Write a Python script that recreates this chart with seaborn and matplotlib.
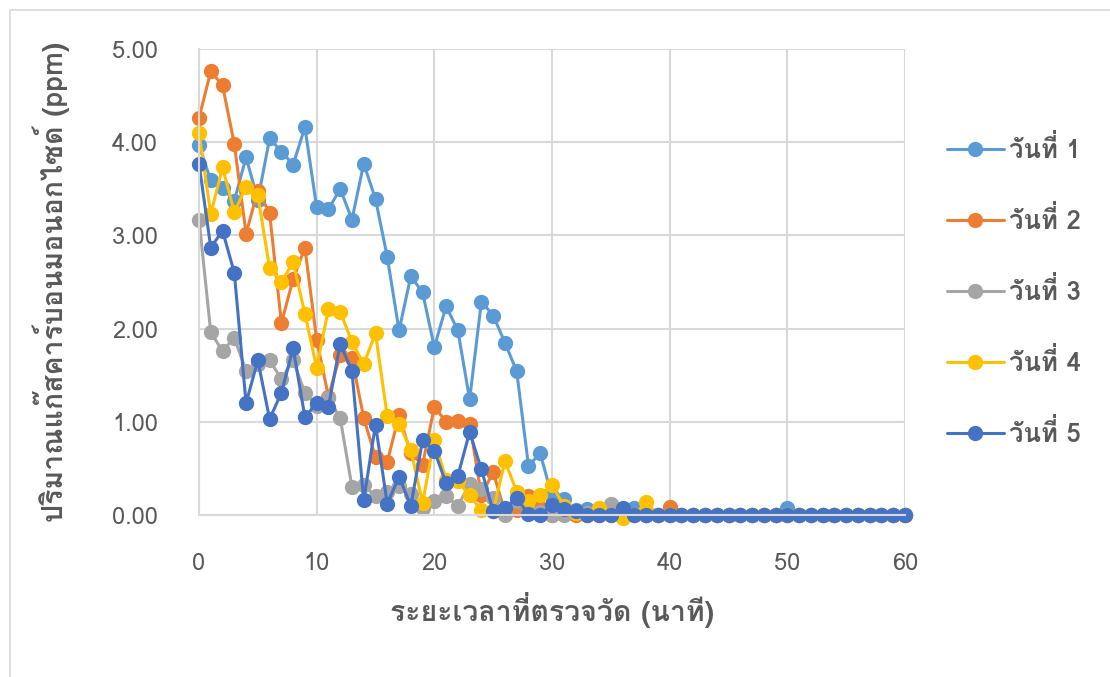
import matplotlib
matplotlib.use("Agg")
import matplotlib.pyplot as plt
from matplotlib import font_manager
from matplotlib.ft2font import FT2Font
from matplotlib.lines import Line2D
import numpy as np
import pandas as pd
import seaborn as sns

# ---- data -------------------------------------------------------------
minutes = list(range(61))

day1 = [3.97, 3.59, 3.51, 3.37, 3.84, 3.38, 4.04, 3.90, 3.76, 4.16,
        3.30, 3.28, 3.50, 3.17, 3.77, 3.39, 2.77, 1.98, 2.56, 2.39,
        1.80, 2.24, 1.98, 1.24, 2.29, 2.14, 1.85, 1.54, 0.53, 0.66,
        0.20, 0.17, 0.05, 0.06, 0.02, 0.03, 0.02, 0.08, 0.00, 0.00,
        0.00, 0.00, 0.00, 0.00, 0.00, 0.00, 0.00, 0.00, 0.00, 0.00,
        0.07, 0.00, 0.00, 0.00, 0.00, 0.00, 0.00, 0.00, 0.00, 0.00,
        0.00]
day2 = [4.26, 4.76, 4.61, 3.98, 3.02, 3.48, 3.24, 2.06, 2.53, 2.87,
        1.88, 1.27, 1.72, 1.68, 1.04, 0.62, 0.57, 1.07, 0.66, 0.54,
        1.16, 1.00, 1.01, 0.98, 0.21, 0.46, 0.03, 0.05, 0.20, 0.08,
        0.00, 0.02, 0.00, 0.00, 0.00, 0.00, 0.00, 0.00, 0.00, 0.00,
        0.09, 0.00, 0.00, 0.00, 0.00, 0.00, 0.00, 0.00, 0.00, 0.00,
        0.00, 0.00, 0.00, 0.00, 0.00, 0.00, 0.00, 0.00, 0.00, 0.00,
        0.00]
day3 = [3.17, 1.96, 1.76, 1.90, 1.55, 1.62, 1.66, 1.46, 1.66, 1.31,
        1.17, 1.26, 1.04, 0.30, 0.32, 0.20, 0.25, 0.31, 0.22, 0.07,
        0.15, 0.20, 0.10, 0.33, 0.28, 0.18, 0.00, 0.15, 0.05, 0.03,
        0.00, 0.00, 0.02, 0.02, 0.03, 0.12, 0.00, 0.00, 0.00, 0.00,
        0.00, 0.00, 0.00, 0.00, 0.00, 0.00, 0.00, 0.00, 0.00, 0.00,
        0.00, 0.00, 0.00, 0.00, 0.00, 0.00, 0.00, 0.00, 0.00, 0.00,
        0.00]
day4 = [4.10, 3.23, 3.73, 3.25, 3.52, 3.43, 2.65, 2.50, 2.71, 2.16,
        1.58, 2.21, 2.18, 1.86, 1.62, 1.95, 1.06, 0.98, 0.70, 0.13,
        0.81, 0.38, 0.36, 0.21, 0.05, 0.04, 0.58, 0.25, 0.15, 0.21,
        0.32, 0.10, 0.02, 0.00, 0.07, 0.00, -0.03, 0.00, 0.14, 0.00,
        0.00, 0.00, 0.00, 0.00, 0.00, 0.00, 0.00, 0.00, 0.00, 0.00,
        0.00, 0.00, 0.00, 0.00, 0.00, 0.00, 0.00, 0.00, 0.00, 0.00,
        0.00]
day5 = [3.77, 2.87, 3.05, 2.60, 1.20, 1.66, 1.03, 1.31, 1.79, 1.05,
        1.20, 1.16, 1.84, 1.54, 0.16, 0.97, 0.12, 0.41, 0.10, 0.80,
        0.69, 0.34, 0.42, 0.89, 0.49, 0.04, 0.07, 0.18, 0.01, 0.00,
        0.11, 0.06, 0.04, 0.00, 0.00, 0.00, 0.08, 0.00, 0.00, 0.00,
        0.00, 0.00, 0.00, 0.00, 0.00, 0.00, 0.00, 0.00, 0.00, 0.00,
        0.00, 0.00, 0.00, 0.00, 0.00, 0.00, 0.00, 0.00, 0.00, 0.00,
        0.00]

day_labels = ["วันที่ 1", "วันที่ 2", "วันที่ 3", "วันที่ 4", "วันที่ 5"]
colors = ["#5B9BD5", "#ED7D31", "#A5A5A5", "#FFC000", "#4472C4"]
x_ticks = [0, 10, 20, 30, 40, 50, 60]
y_ticks = [0, 1, 2, 3, 4, 5]
x_title = "ระยะเวลาที่ตรวจวัด (นาที)"
y_title = "ปริมาณแก๊สคาร์บอนมอนอกไซด์ (ppm)"

series = [day1, day2, day3, day4, day5]
df = pd.concat(
    [pd.DataFrame({"minute": minutes, "ppm": vals, "day": lab})
     for vals, lab in zip(series, day_labels)],
    ignore_index=True,
)

# ---- fonts: pick an installed family that covers Thai -------------------
def family_with(ch):
    for f in font_manager.fontManager.ttflist:
        try:
            if ord(ch) in FT2Font(f.fname).get_charmap():
                return f.name
        except Exception:
            continue
    return None

thai = family_with("ว")
sns.set_theme(style="white")
fams = ([thai] if thai else []) + ["DejaVu Sans"]
plt.rcParams["font.family"] = fams

text_color = "#595959"
grid_color = "#D9D9D9"

fig = plt.figure(figsize=(11.10, 6.77), dpi=100)
ax = fig.add_axes([199 / 1110, 1 - 515 / 677, (905 - 199) / 1110, (515 - 49) / 677])

sns.lineplot(data=df, x="minute", y="ppm", hue="day", palette=colors,
             hue_order=day_labels, marker="o", markersize=11,
             markeredgewidth=0, linewidth=2.2, sort=False, ax=ax,
             legend=False, clip_on=False)

ax.set_xlim(0, 60)
ax.set_ylim(0, 5)
ax.set_xticks(x_ticks)
ax.set_yticks(y_ticks)
ax.set_yticklabels([f"{v:.2f}" for v in y_ticks])
ax.tick_params(axis="both", length=0, labelsize=17, labelcolor=text_color)
ax.tick_params(axis="x", pad=27)
ax.tick_params(axis="y", pad=29.5)
ax.grid(True, color=grid_color, linewidth=1.5)
ax.set_axisbelow(True)
for side in ["top", "right"]:
    ax.spines[side].set_visible(False)
for side in ["left", "bottom"]:
    ax.spines[side].set_color(grid_color)
    ax.spines[side].set_linewidth(1.5)

ax.set_xlabel(x_title, fontsize=20.5, color=text_color, fontweight="bold", labelpad=12)
ax.set_ylabel(y_title, fontsize=20.5, color=text_color, fontweight="bold", labelpad=30)

handles = [Line2D([0], [0], color=c, linewidth=2.2, marker="o", markersize=11,
                  markeredgewidth=0) for c in colors]
fig.legend(handles, day_labels, loc="center left",
           bbox_to_anchor=(947 / 1110, 1 - 291 / 677), frameon=False,
           labelcolor=text_color, handlelength=2.2,
           handletextpad=0.2, labelspacing=1.67, borderpad=0, borderaxespad=0,
           prop={"weight": "bold", "size": 18.5})

# outer chart frame
fig.add_artist(Line2D([10 / 1110, 10 / 1110], [0, 1 - 10 / 677],
                      transform=fig.transFigure, color=grid_color, linewidth=1.2))
fig.add_artist(Line2D([10 / 1110, 1], [1 - 10 / 677, 1 - 10 / 677],
                      transform=fig.transFigure, color=grid_color, linewidth=1.2))

fig.savefig("out.png", dpi=100, facecolor="white")
